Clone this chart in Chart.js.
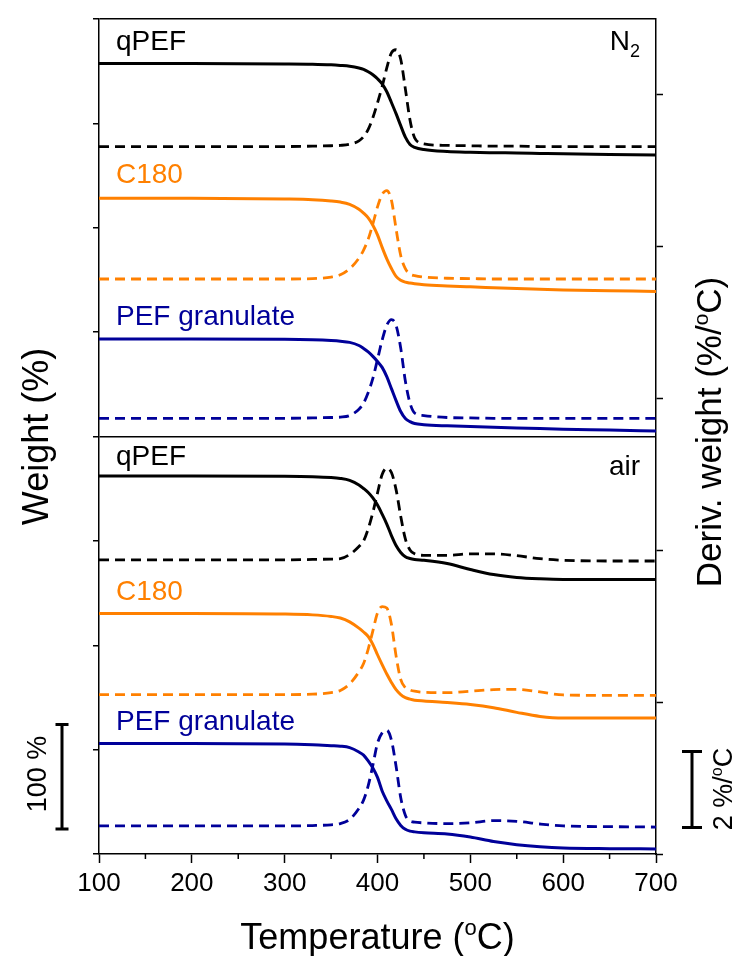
<!DOCTYPE html>
<html>
<head>
<meta charset="utf-8">
<script src="https://cdn.jsdelivr.net/npm/chart.js@4.4.1/dist/chart.umd.min.js"></script>
<style>
  body { margin: 0; background: #fff; }
  #wrap { width: 739px; height: 956px; }
</style>
</head>
<body>
<div id="wrap"><canvas id="tga" width="739" height="956"></canvas></div>
<script>
// temperature grid (°C)
const temps = [100, 200, 300, 330, 350, 360, 370, 380, 385, 390, 395, 400, 405, 410, 415,
  420, 425, 430, 435, 440, 450, 475, 500, 525, 550, 575, 600, 650, 700];

// weight (%) - N2
const n2QpefWeight = [100, 100, 99.7, 99.4, 98.8, 98.2, 97.4, 95.8, 94.5, 92.2, 89.3, 85.5, 80.5, 73.0, 62.7,
  52.0, 40.5, 29.5, 22.5, 19.8, 17.6, 15.7, 15.0, 14.6, 14.3, 13.9, 13.5, 12.9, 12.3];
const n2C180Weight = [100, 100, 99.3, 98.7, 97.5, 96.4, 94.2, 89.5, 85.8, 81.2, 74.2, 65.0, 53.0, 42.0, 32.8,
  25.2, 21.5, 19.7, 18.8, 18.2, 17.3, 16.1, 15.2, 14.4, 13.6, 12.9, 12.2, 11.5, 10.8];
const n2PefWeight = [100, 100, 99.7, 99.2, 98.5, 97.9, 96.8, 93.8, 91.0, 87.6, 83.4, 78.5, 72.8, 63.9, 52.5,
  41.0, 30.5, 23.8, 20.8, 19.0, 17.9, 16.8, 16.1, 15.4, 14.8, 14.2, 13.6, 12.8, 11.9];
// weight (%) - air
const airQpefWeight = [100, 100, 99.8, 99.4, 98.6, 97.7, 95.8, 91.5, 88.1, 84.2, 79.0, 72.2, 63.5, 54.0, 43.0,
  33.5, 26.8, 22.7, 21.0, 20.1, 19.3, 16.2, 10.5, 5.6, 2.8, 1.5, 0.9, 0.9, 0.9];
const airC180Weight = [100, 100, 99.5, 98.7, 97.2, 95.7, 92.0, 86.0, 82.3, 78.0, 70.5, 60.5, 51.0, 42.0, 34.0,
  27.0, 22.3, 19.5, 18.0, 17.0, 16.2, 14.7, 12.8, 9.8, 5.3, 1.4, -0.2, -0.2, -0.2];
const airPefWeight = [100, 100, 99.6, 98.8, 97.9, 97.4, 96.0, 91.8, 88.8, 83.2, 76.5, 67.5, 54.5, 45.0, 36.8,
  27.8, 21.5, 17.8, 16.0, 15.3, 14.5, 13.3, 10.3, 6.0, 3.0, 1.0, -0.2, -0.8, -1.0];

// deriv. weight (%/°C) - N2
const n2QpefDeriv = [0, 0, 0, 0.01, 0.02, 0.03, 0.06, 0.15, 0.26, 0.45, 0.76, 1.15, 1.58, 2.07, 2.47,
  2.55, 2.30, 1.52, 0.70, 0.23, 0.07, 0.03, 0.02, 0.01, 0.01, 0, 0, 0, 0];
const n2C180Deriv = [0, 0, 0, 0.01, 0.05, 0.11, 0.27, 0.55, 0.76, 1.05, 1.45, 1.90, 2.23, 2.33, 2.08,
  1.32, 0.62, 0.27, 0.13, 0.09, 0.05, 0.02, 0.01, 0, 0, 0, 0, 0, 0];
const n2PefDeriv = [0, 0, 0, 0.01, 0.02, 0.03, 0.07, 0.24, 0.40, 0.68, 1.05, 1.55, 2.06, 2.45, 2.60,
  2.45, 1.85, 0.98, 0.40, 0.14, 0.07, 0.02, 0.01, 0, 0, 0, 0, 0, 0];
// deriv. weight (%/°C) - air
const airQpefDeriv = [0, 0, 0, 0.01, 0.02, 0.03, 0.14, 0.35, 0.50, 0.82, 1.25, 1.76, 2.25, 2.42, 2.30,
  1.85, 1.15, 0.55, 0.26, 0.16, 0.12, 0.12, 0.16, 0.16, 0.11, 0.03, -0.01, -0.03, -0.03];
const airC180Deriv = [0, 0, 0, 0.01, 0.05, 0.11, 0.28, 0.60, 0.82, 1.20, 1.68, 2.15, 2.32, 2.28, 1.85,
  1.02, 0.40, 0.18, 0.12, 0.09, 0.06, 0.05, 0.09, 0.13, 0.14, 0.07, -0.01, -0.02, -0.02];
const airPefDeriv = [0, 0, 0, 0.01, 0.03, 0.06, 0.17, 0.46, 0.68, 1.06, 1.60, 2.18, 2.45, 2.52, 2.26,
  1.57, 0.75, 0.28, 0.13, 0.10, 0.08, 0.06, 0.08, 0.14, 0.12, 0.05, 0, -0.02, -0.03];

// vertical shifts used to stack the curves (axis units)
const weightShift = [657.3, 528.2, 393.4, 262.1, 130.4, 5.9];
const derivShift = [18.64, 15.15, 11.48, 7.75, 4.20, 0.74];

const sampleNames = ['qPEF', 'C180', 'PEF granulate'];
const sampleColors = ['#000000', '#ff8000', '#000099'];

const weightCurves = [n2QpefWeight, n2C180Weight, n2PefWeight, airQpefWeight, airC180Weight, airPefWeight];
const derivCurves = [n2QpefDeriv, n2C180Deriv, n2PefDeriv, airQpefDeriv, airC180Deriv, airPefDeriv];

const FONT = '"Liberation Sans", Arial, sans-serif';

const datasets = [];
weightCurves.forEach((w, i) => {
  datasets.push({
    data: temps.map((t, k) => ({ x: t, y: w[k] + weightShift[i] })),
    borderColor: sampleColors[i % 3],
    borderWidth: 3,
    yAxisID: 'yW'
  });
  datasets.push({
    data: temps.map((t, k) => ({ x: t, y: derivCurves[i][k] + derivShift[i] })),
    borderColor: sampleColors[i % 3],
    borderWidth: 2.8,
    borderDash: [10, 6],
    yAxisID: 'yD'
  });
});

// text with super/subscripts: parts = [text, size, yShift]
function richText(ctx, parts, x, y, align) {
  let total = 0;
  parts.forEach(p => { ctx.font = p[1] + 'px ' + FONT; total += ctx.measureText(p[0]).width; });
  let cx = align === 'center' ? x - total / 2 : (align === 'right' ? x - total : x);
  ctx.textAlign = 'left';
  ctx.textBaseline = 'alphabetic';
  parts.forEach(p => {
    ctx.font = p[1] + 'px ' + FONT;
    ctx.fillText(p[0], cx, y + (p[2] || 0));
    cx += ctx.measureText(p[0]).width;
  });
}

function rotatedText(ctx, parts, x, y) {
  ctx.save();
  ctx.translate(x, y);
  ctx.rotate(-Math.PI / 2);
  richText(ctx, parts, 0, 0, 'center');
  ctx.restore();
}

const decorations = {
  id: 'decorations',
  afterDraw(chart) {
    const ctx = chart.ctx;
    const xs = chart.scales.x, yW = chart.scales.yW, yD = chart.scales.yD;
    ctx.save();
    // minor ticks on x
    ctx.strokeStyle = '#000';
    ctx.lineWidth = 1.5;
    for (let t = 150; t < 700; t += 100) {
      const px = xs.getPixelForValue(t);
      ctx.beginPath();
      ctx.moveTo(px, yW.bottom);
      ctx.lineTo(px, yW.bottom + 5);
      ctx.stroke();
    }

    // sample labels
    const baselines = [50, 183, 325, 465, 600, 730];
    baselines.forEach((b, i) => {
      ctx.fillStyle = sampleColors[i % 3];
      richText(ctx, [[sampleNames[i % 3], 28]], 116, b, 'left');
    });
    ctx.fillStyle = '#000';
    richText(ctx, [['N', 28], ['2', 18, 7]], 640, 50, 'right');
    richText(ctx, [['air', 28]], 640, 475, 'right');

    // axis titles
    richText(ctx, [['Temperature (', 36], ['o', 22, -14], ['C)', 36]], (xs.left + xs.right) / 2, 949, 'center');
    rotatedText(ctx, [['Weight (%)', 36]], 48, (yW.top + yW.bottom) / 2);
    rotatedText(ctx, [['Deriv. weight (%/', 35], ['o', 21, -13.5], ['C)', 35]], 721, 432);

    // scale bars
    ctx.lineWidth = 3;
    const bar = (x, y1, y2, half) => {
      ctx.beginPath();
      ctx.moveTo(x, y1); ctx.lineTo(x, y2);
      ctx.moveTo(x - half, y1); ctx.lineTo(x + half, y1);
      ctx.moveTo(x - half, y2); ctx.lineTo(x + half, y2);
      ctx.stroke();
    };
    bar(62, yW.getPixelForValue(24), yW.getPixelForValue(124), 6.5);
    bar(692, yD.getPixelForValue(0.7), yD.getPixelForValue(2.7), 10);
    rotatedText(ctx, [['100 %', 27]], 46, 774);
    rotatedText(ctx, [['2 %/', 27], ['o', 16, -10], ['C', 27]], 732, 789);
    ctx.restore();
  }
};

new Chart(document.getElementById('tga'), {
  type: 'line',
  data: { datasets },
  plugins: [decorations],
  options: {
    responsive: false,
    animation: false,
    layout: { padding: { top: 19, left: 0, right: 0, bottom: 0 } },
    elements: {
      point: { radius: 0 },
      line: { cubicInterpolationMode: 'monotone', fill: false }
    },
    plugins: { legend: { display: false }, tooltip: { enabled: false } },
    scales: {
      x: {
        type: 'linear',
        position: 'bottom',
        min: 100,
        max: 700,
        afterFit: s => { s.height = 102; },
        ticks: {
          stepSize: 50,
          autoSkip: false,
          maxRotation: 0,
          padding: 5,
          color: '#000',
          font: { family: FONT, size: 26 },
          callback: v => (v % 100 === 0 ? v : '')
        },
        grid: {
          drawOnChartArea: false,
          drawTicks: true,
          tickLength: 9,
          tickWidth: 1.5,
          tickColor: c => (c.tick && c.tick.value % 100 === 0 ? '#000' : 'rgba(0,0,0,0)')
        },
        border: { color: '#000', width: 1.5 }
      },
      yW: {
        type: 'linear',
        position: 'left',
        min: 0,
        max: 800,
        afterFit: s => { s.width = 99; },
        ticks: { stepSize: 100, display: false },
        grid: {
          drawTicks: true,
          tickLength: 6,
          tickWidth: 1.5,
          tickColor: '#000',
          lineWidth: 1.5,
          color: c => (c.tick && (c.tick.value === 400 || c.tick.value === 800) ? '#000' : 'rgba(0,0,0,0)')
        },
        border: { color: '#000', width: 1.5 }
      },
      yD: {
        type: 'linear',
        position: 'right',
        min: 0,
        max: 22,
        afterFit: s => { s.width = 83; },
        ticks: { stepSize: 4, display: false },
        grid: {
          drawOnChartArea: false,
          drawTicks: true,
          tickLength: 7,
          tickWidth: 1.5,
          tickColor: c => (c.tick && c.tick.value % 4 === 0 ? '#000' : 'rgba(0,0,0,0)')
        },
        border: { color: '#000', width: 1.5 }
      }
    }
  }
});
</script>
</body>
</html>
